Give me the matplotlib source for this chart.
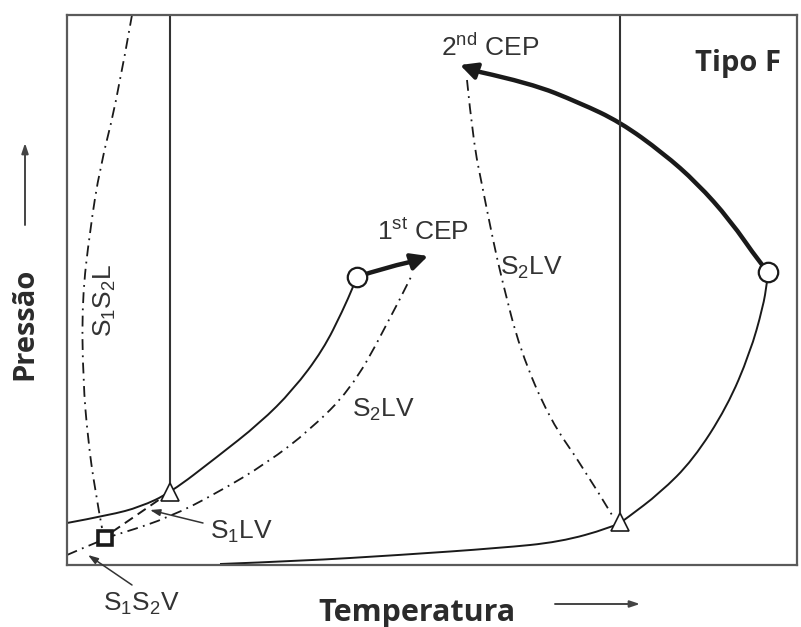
import matplotlib.pyplot as plt
from matplotlib.patches import FancyArrowPatch, PathPatch
from matplotlib.path import Path

plt.rcParams['font.family'] = ['Liberation Sans', 'DejaVu Sans']
plt.rcParams['mathtext.fontset'] = 'custom'
plt.rcParams['mathtext.rm'] = 'Liberation Sans'
plt.rcParams['mathtext.it'] = 'Liberation Sans'

# schematic P-T projection, arbitrary units (T: 0..730, P: 0..550)
# S1S2L three-phase line (dash-dot, left)
s1s2l_T = [65, 50, 33, 23, 15, 16, 21, 28, 35]
s1s2l_P = [550, 465, 398, 335, 265, 185, 125, 75, 37]

# S1S2V three-phase line (dash-dot, bottom left)
s1s2v_T = [0, 16, 33]
s1s2v_P = [10, 17, 24]

# S1LV (dashed, quadruple point -> triangle)
s1lv_T = [45, 96]
s1lv_P = [33, 68]

# S2LV lower branch (dash-dot, quadruple point -> 1st CEP)
s2lv_a_T = [38, 56, 103, 150, 200, 243, 283, 316, 346]
s2lv_a_P = [27, 32, 48, 72, 102, 135, 175, 232, 292]

# S2LV upper branch (dash-dot, 2nd CEP -> right triangle)
s2lv_b_T = [400, 406, 416, 426, 435, 453, 483, 516, 545]
s2lv_b_P = [485, 425, 375, 325, 285, 215, 145, 98, 50]

# solid curve, left edge -> 1st circle
lv1_T = [0, 43, 73, 103, 150, 193, 226, 256, 276, 286, 290]
lv1_P = [42, 50, 58, 72, 108, 142, 175, 215, 255, 278, 288]

# solid bottom curve -> right triangle
lv2_T = [153, 233, 333, 433, 493, 543, 553]
lv2_P = [1, 4, 10, 17, 23, 37, 42]

# solid right curve, triangle -> circle
lv3_T = [553, 560, 593, 626, 660, 683, 696, 700, 701]
lv3_P = [42, 47, 72, 105, 158, 212, 258, 282, 293]

# critical lines (thick)
crit1_T = [290, 316, 343, 361]
crit1_P = [288, 297, 303, 309]
crit2_T = [701, 693, 663, 630, 596, 553, 513, 463, 413, 393]
crit2_P = [293, 302, 345, 382, 412, 443, 462, 482, 493, 500]

# special points
qp_T, qp_P = 38, 27            # square (quadruple point)
tri_T = [103, 553]             # triangles
tri_P = [73, 43]
circ_T = [290, 701]            # circles
circ_P = [288, 293]


def smooth(ax, T, P, **kw):
    # quadratic b-spline style path through the read points
    pts = list(zip(T, P))
    verts = [pts[0]]
    codes = [Path.MOVETO]
    if len(pts) == 2:
        verts.append(pts[1])
        codes.append(Path.LINETO)
    else:
        for i in range(1, len(pts) - 1):
            if i < len(pts) - 2:
                end = ((pts[i][0] + pts[i + 1][0]) / 2, (pts[i][1] + pts[i + 1][1]) / 2)
            else:
                end = pts[i + 1]
            verts += [pts[i], end]
            codes += [Path.CURVE3, Path.CURVE3]
    ax.add_patch(PathPatch(Path(verts, codes), fill=False, **kw))


fig = plt.figure(figsize=(8.01, 6.27), dpi=100)
ax = fig.add_axes([67 / 801, 62 / 627, 730 / 801, 550 / 627])
ax.set_xlim(0, 730)
ax.set_ylim(0, 550)
ax.set_xticks([])
ax.set_yticks([])
for s in ax.spines.values():
    s.set_color('#5a5a5a')
    s.set_linewidth(1.6)

dashdot = (0, (6, 3, 1, 3))
k = '#1a1a1a'

smooth(ax, s1s2l_T, s1s2l_P, color=k, lw=1.3, ls=dashdot)
smooth(ax, s1s2v_T, s1s2v_P, color=k, lw=1.3, ls=dashdot)
smooth(ax, s1lv_T, s1lv_P, color=k, lw=1.4, ls=(0, (5, 3)))
smooth(ax, s2lv_a_T, s2lv_a_P, color=k, lw=1.3, ls=dashdot)
smooth(ax, s2lv_b_T, s2lv_b_P, color=k, lw=1.3, ls=dashdot)

smooth(ax, lv1_T, lv1_P, color=k, lw=1.4)
smooth(ax, lv2_T, lv2_P, color=k, lw=1.4)
smooth(ax, lv3_T, lv3_P, color=k, lw=1.4)

# vertical lines above the triangles
for t, p in zip(tri_T, tri_P):
    ax.plot([t, t], [p, 550], color='#333333', lw=1.5)

# thick critical curves with filled arrow heads
smooth(ax, crit1_T[:-1], crit1_P[:-1], color=k, lw=3.2, capstyle='butt')
smooth(ax, crit2_T[:-1], crit2_P[:-1], color=k, lw=3.2, capstyle='butt')
for T, P in [(crit1_T, crit1_P), (crit2_T, crit2_P)]:
    ax.add_patch(FancyArrowPatch((T[-2], P[-2]), (T[-1], P[-1]),
                                 arrowstyle='-|>,head_length=10,head_width=5',
                                 color=k, lw=3, mutation_scale=1,
                                 shrinkA=0, shrinkB=0))

ax.plot(tri_T, tri_P, ls='none', marker='^', ms=13, mfc='white',
        mec=k, mew=1.2, zorder=5)
ax.plot(circ_T, circ_P, ls='none', marker='o', ms=14, mfc='white',
        mec=k, mew=1.6, zorder=5)
ax.plot([qp_T], [qp_P], ls='none', marker='s', ms=10, mfc='white',
        mec=k, mew=2.6, zorder=5)

tc = '#333333'
fs = 19
ax.text(671, 502, 'Tipo F', family='Open Sans', weight='bold', fontsize=21,
        color='#2b2b2b', ha='center', va='center')
ax.text(374, 518, r'2$^{\rm nd}$ CEP', fontsize=fs, color=tc, va='center')
ax.text(310, 333, r'1$^{\rm st}$ CEP', fontsize=fs, color=tc, va='center')
ax.text(433, 297, r'S$_2$LV', fontsize=fs, color=tc, va='center')
ax.text(285, 155, r'S$_2$LV', fontsize=fs, color=tc, va='center')
ax.text(143, 33, r'S$_1$LV', fontsize=fs, color=tc, va='center')
ax.text(36, -39, r'S$_1$S$_2$V', fontsize=fs, color=tc, va='center',
        clip_on=False)
ax.text(38, 265, r'S$_1$S$_2$L', fontsize=fs, color=tc, va='center',
        ha='center', rotation=90)

# pointer arrows for labels
ax.annotate('', xy=(83, 55), xytext=(136, 42),
            arrowprops=dict(arrowstyle='-|>,head_length=0.6,head_width=0.2',
                            color='#333333', lw=1.1, shrinkA=0, shrinkB=0))
ax.annotate('', xy=(21, 10), xytext=(65, -20), annotation_clip=False,
            arrowprops=dict(arrowstyle='-|>,head_length=0.6,head_width=0.2',
                            color='#333333', lw=1.1, shrinkA=0, shrinkB=0))

# axis labels with arrows
ax.text(-42, 241, 'Pressão', family='Open Sans', weight='bold', fontsize=21,
        color='#2b2b2b', rotation=90, ha='center', va='center', clip_on=False)
ax.annotate('', xy=(-42, 422), xytext=(-42, 340), annotation_clip=False,
            arrowprops=dict(arrowstyle='-|>,head_length=0.6,head_width=0.2',
                            color='#444444', lw=1.4, shrinkA=0, shrinkB=0))
ax.text(350, -48, 'Temperatura', family='Open Sans', weight='bold',
        fontsize=22, color='#2b2b2b', ha='center', va='center', clip_on=False)
ax.annotate('', xy=(573, -39), xytext=(488, -39), annotation_clip=False,
            arrowprops=dict(arrowstyle='-|>,head_length=0.6,head_width=0.2',
                            color='#444444', lw=1.4, shrinkA=0, shrinkB=0))

fig.savefig('out.png', dpi=100, facecolor='white')
